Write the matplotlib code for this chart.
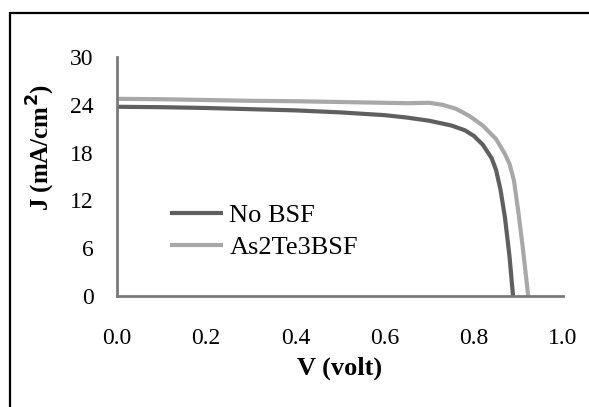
import matplotlib
matplotlib.use("Agg")
import matplotlib.pyplot as plt
from matplotlib.patches import Rectangle

plt.rcParams['font.family'] = ['Liberation Serif', 'DejaVu Serif']

# J-V curves
v_nobsf = [0.0, 0.1, 0.2, 0.3, 0.4, 0.5, 0.6, 0.65, 0.7, 0.75, 0.78, 0.8,
           0.82, 0.84, 0.85, 0.86, 0.87, 0.88, 0.888]
j_nobsf = [23.75, 23.7, 23.6, 23.45, 23.3, 23.05, 22.7, 22.4, 22.0, 21.4, 20.8, 20.1,
           19.0, 17.3, 15.8, 13.3, 9.8, 5.0, 0.0]

v_bsf = [0.0, 0.1, 0.2, 0.3, 0.4, 0.5, 0.6, 0.65, 0.7, 0.73, 0.76, 0.79,
         0.82, 0.85, 0.87, 0.88, 0.89, 0.9, 0.91, 0.922]
j_bsf = [24.75, 24.7, 24.6, 24.5, 24.45, 24.35, 24.25, 24.2, 24.25, 24.0, 23.5, 22.6,
         21.4, 19.7, 17.8, 16.6, 14.5, 10.5, 6.0, 0.0]

labels = ['No BSF', 'As2Te3BSF']
xticks = [0.0, 0.2, 0.4, 0.6, 0.8, 1.0]
yticks = [0, 6, 12, 18, 24, 30]

fig = plt.figure(figsize=(5.89, 4.07), dpi=100)
ax = fig.add_axes([117/589, 1-296/407, 446/589, 239/407])

ax.plot(v_nobsf, j_nobsf, color='#5f5f5f', lw=3, label=labels[0], solid_capstyle='butt')
ax.plot(v_bsf, j_bsf, color='#a8a8a8', lw=3, label=labels[1], solid_capstyle='butt')

ax.set_xlim(0, 1.0)
ax.set_ylim(0, 30)
ax.set_xticks(xticks)
ax.set_xticklabels([f"{t:.1f}" for t in xticks])
ax.set_yticks(yticks)
ax.tick_params(length=0, labelsize=17, colors='black')
ax.tick_params(axis='x', pad=23)
ax.tick_params(axis='y', pad=17)

for s in ['top', 'right']:
    ax.spines[s].set_visible(False)
for s in ['left', 'bottom']:
    ax.spines[s].set_color('#7a7a7a')
    ax.spines[s].set_linewidth(2)

ax.set_xlabel('V (volt)', fontsize=19, fontweight='bold')
ax.set_ylabel('J (mA/cm$^\\mathbf{2}$)', fontsize=18, fontweight='bold')
ax.xaxis.set_label_coords(0.5, -0.255)
ax.yaxis.set_label_coords(-0.135, 0.62)

ax.legend(loc='upper left', bbox_to_anchor=(170/589, 1-204/407),
          bbox_transform=fig.transFigure, frameon=False, fontsize=19,
          handlelength=2.0, handletextpad=0.25, labelspacing=0.3,
          borderpad=0, borderaxespad=0)

# outer frame around the chart
fig.patches.append(Rectangle((10/589, -0.1), 1.2, 1.1 - 13/407,
                             transform=fig.transFigure, fill=False,
                             edgecolor='black', lw=1.6))

fig.savefig('out.png', dpi=100)
